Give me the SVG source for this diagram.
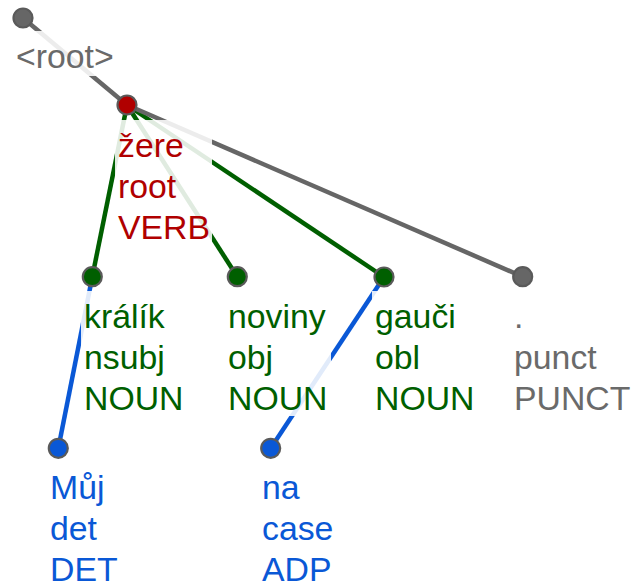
<svg xmlns="http://www.w3.org/2000/svg" width="633" height="587" viewBox="0 0 633 587">
<style>
text{font-family:"Liberation Sans",Arial,sans-serif;font-size:33.8px}
.e{stroke-width:4.5;stroke-linecap:butt;fill:none}
.bg{fill:#fff;fill-opacity:0.88}
.n{stroke:#5a5a5a;stroke-width:2.2}
.gray{fill:#6a6a6a}.red{fill:#b00000}.green{fill:#005f00}.blue{fill:#0a58d6}
</style>
<rect width="633" height="587" fill="#fff"/>
<g id="connectors">
<line class="e" x1="23" y1="18" x2="127" y2="105" stroke="#666"/>
<line class="e" x1="127" y1="105" x2="92.3" y2="276.7" stroke="#005f00"/>
<line class="e" x1="127" y1="105" x2="237.3" y2="276.7" stroke="#005f00"/>
<line class="e" x1="127" y1="105" x2="384" y2="277" stroke="#005f00"/>
<line class="e" x1="127" y1="105" x2="522.7" y2="276.7" stroke="#666"/>
<line class="e" x1="92.3" y1="276.7" x2="58.3" y2="448.3" stroke="#0a58d6"/>
<line class="e" x1="384" y1="277" x2="270.7" y2="448.3" stroke="#0a58d6"/>
</g>
<g id="node-root">
<rect class="bg" x="12" y="31" width="104" height="45"/>
<text class="gray" x="16" y="68">&lt;root&gt;</text>
<circle class="n" cx="23" cy="18" r="9.5" fill="#666"/>
</g>
<g id="node-zere">
<rect class="bg" x="115" y="120" width="97" height="126"/>
<text class="red" x="118" y="157">žere</text>
<text class="red" x="118" y="198">root</text>
<text class="red" x="118" y="239">VERB</text>
<circle class="n" cx="127" cy="105" r="9.5" fill="#b00000"/>
</g>
<g id="node-kralik">
<rect class="bg" x="81" y="291" width="106" height="125"/>
<text class="green" x="84" y="328">králík</text>
<text class="green" x="84" y="369">nsubj</text>
<text class="green" x="84" y="410">NOUN</text>
<circle class="n" cx="92.3" cy="276.7" r="9.5" fill="#005f00"/>
</g>
<g id="node-noviny">
<rect class="bg" x="225" y="291" width="106" height="125"/>
<text class="green" x="228" y="328">noviny</text>
<text class="green" x="228" y="369">obj</text>
<text class="green" x="228" y="410">NOUN</text>
<circle class="n" cx="237.3" cy="276.7" r="9.5" fill="#005f00"/>
</g>
<g id="node-gauci">
<rect class="bg" x="372" y="291" width="106" height="125"/>
<text class="green" x="375" y="328">gauči</text>
<text class="green" x="375" y="369">obl</text>
<text class="green" x="375" y="410">NOUN</text>
<circle class="n" cx="384" cy="277" r="9.5" fill="#005f00"/>
</g>
<g id="node-punct">
<rect class="bg" x="511" y="291" width="120" height="125"/>
<text class="gray" x="514" y="328">.</text>
<text class="gray" x="514" y="369">punct</text>
<text class="gray" x="514" y="410">PUNCT</text>
<circle class="n" cx="522.7" cy="276.7" r="9.5" fill="#666"/>
</g>
<g id="node-muj">
<rect class="bg" x="47" y="462" width="76" height="125"/>
<text class="blue" x="50" y="499">Můj</text>
<text class="blue" x="50" y="540">det</text>
<text class="blue" x="50" y="581">DET</text>
<circle class="n" cx="58.3" cy="448.3" r="9.5" fill="#0a58d6"/>
</g>
<g id="node-na">
<rect class="bg" x="259" y="462" width="80" height="125"/>
<text class="blue" x="262" y="499">na</text>
<text class="blue" x="262" y="540">case</text>
<text class="blue" x="262" y="581">ADP</text>
<circle class="n" cx="270.7" cy="448.3" r="9.5" fill="#0a58d6"/>
</g>
</svg>
